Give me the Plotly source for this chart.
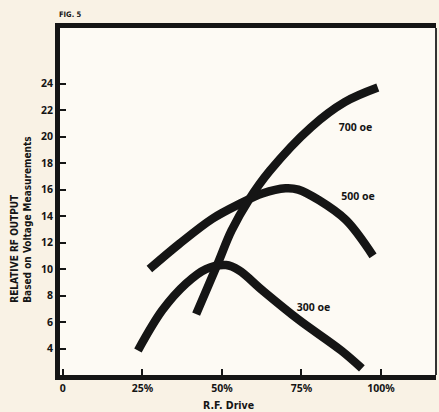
import plotly.graph_objects as go

# --- data ---
drive_300 = [23.6, 31.3, 38.7, 45, 51.3, 55.4, 62.7, 74, 87.5, 94]
out_300 = [3.85, 6.9, 8.9, 10.0, 10.3, 9.9, 8.4, 6.2, 3.85, 2.5]

drive_500 = [27.2, 36.6, 47, 55.4, 62.7, 70, 74, 80.5, 89, 97.5]
out_500 = [10.0, 11.9, 13.8, 14.9, 15.7, 16.1, 16.0, 15.2, 13.7, 11.0]

drive_700 = [41.9, 46, 49, 53, 58.4, 65, 78, 88.6, 99]
out_700 = [6.6, 8.9, 10.6, 12.9, 15.2, 17.4, 20.7, 22.6, 23.7]

curve_labels = ["300 oe", "500 oe", "700 oe"]
label_x = [78.8, 92.8, 92.0]
label_y = [7.0, 15.4, 20.6]

x_tickvals = [0, 25, 50, 75, 100]
x_ticktext = ["0", "25%", "50%", "75%", "100%"]
y_tickvals = [4, 6, 8, 10, 12, 14, 16, 18, 20, 22, 24]

INK = "#151515"
ROUND = "'Noto Sans', 'Open Sans', sans-serif"
TICKFONT = dict(family=ROUND, size=10.5, color=INK, weight="bold")
NARROW = "'Liberation Sans Narrow', 'DejaVu Sans Condensed', sans-serif"

fig = go.Figure()
for xs, ys in [(drive_300, out_300), (drive_500, out_500), (drive_700, out_700)]:
    fig.add_trace(go.Scatter(x=xs, y=ys, mode="lines",
                             line=dict(color=INK, width=8.5, shape="spline", smoothing=1.0),
                             hoverinfo="skip", showlegend=False))

fig.add_trace(go.Scatter(x=label_x, y=label_y, mode="text", text=curve_labels,
                         textfont=dict(family=ROUND, size=10.5, color=INK, weight="bold"),
                         showlegend=False, hoverinfo="skip"))

fig.update_xaxes(range=[-0.9, 117.3], tickvals=x_tickvals, ticktext=x_ticktext,
                 ticks="inside", ticklen=6, tickwidth=1.5, tickcolor=INK,
                 showline=True, linewidth=4.5, linecolor=INK, mirror=True,
                 showgrid=False, zeroline=False, tickfont=TICKFONT)
fig.update_yaxes(range=[2.0, 28.2], tickvals=y_tickvals,
                 ticks="inside", ticklen=6, tickwidth=1.5, tickcolor=INK,
                 showline=True, linewidth=5, linecolor=INK,
                 showgrid=False, zeroline=False, tickfont=TICKFONT)

# thin right edge of the frame
fig.add_shape(type="line", xref="paper", yref="paper", x0=1, x1=1, y0=0, y1=1,
              line=dict(color="#333333", width=2))

fig.add_annotation(text="RELATIVE RF OUTPUT<br>Based on Voltage Measurements",
                   xref="paper", yref="paper", x=-0.104, y=0.447, xanchor="center",
                   yanchor="middle", textangle=-90, align="left", showarrow=False,
                   font=dict(family=NARROW, size=10, color=INK, weight="bold"))
fig.add_annotation(text="R.F. Drive", xref="x", yref="paper", x=52, y=-0.086,
                   xanchor="center", yanchor="middle", showarrow=False,
                   font=dict(family=NARROW, size=10.5, color=INK, weight="bold"))
fig.add_annotation(text="FIG. 5", xref="paper", yref="paper", x=-0.007, y=1.04,
                   xanchor="left", yanchor="middle", showarrow=False,
                   font=dict(family=NARROW, size=7.5, color=INK, weight="bold"))

fig.update_layout(width=439, height=412,
                  margin=dict(l=60, r=3, t=28, b=37),
                  paper_bgcolor="#f9f2e5", plot_bgcolor="#fdfaf4")

fig.write_html("out.html", config={"displayModeBar": False},
               post_script="document.body.style.margin='0';document.body.style.background='#f9f2e5';")
